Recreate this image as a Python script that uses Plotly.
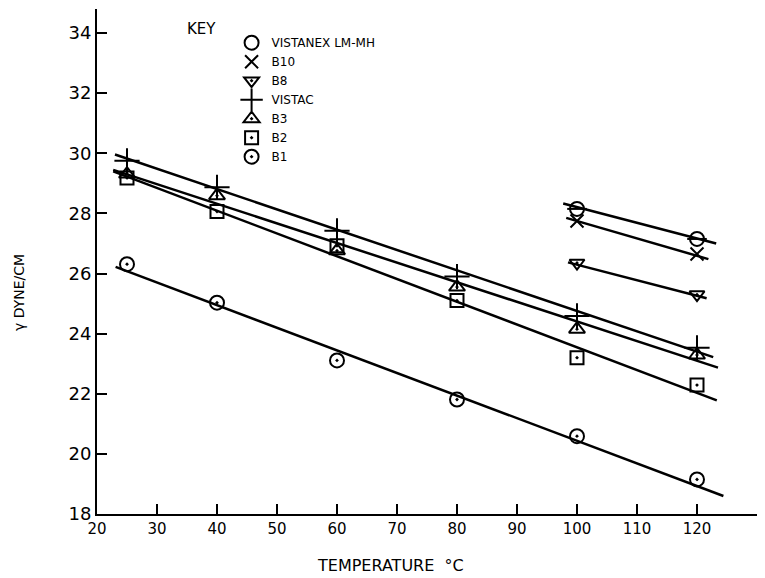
import plotly.graph_objects as go

# ---- data ----
series_names = ["VISTANEX LM-MH", "B10", "B8", "VISTAC", "B3", "B2", "B1"]
temps_high = [100, 120]
temps_all = [25, 40, 60, 80, 100, 120]

vistanex = [28.15, 27.15]
b10 = [27.75, 26.65]
b8 = [26.35, 25.30]
vistac = [29.75, 28.87, 27.42, 25.90, 24.59, 23.53]
b3 = [29.31, 28.59, 26.76, 25.55, 24.15, 23.29]
b2 = [29.18, 28.06, 26.92, 25.10, 23.20, 22.29]
b1 = [26.31, 25.03, 23.11, 21.81, 20.59, 19.15]

# hand-drawn fit lines: start / end temperature and value
fit_t_start = [97.7, 98.2, 98.5, 23.0, 22.7, 22.7, 23.1]
fit_t_end = [123.2, 121.9, 121.6, 122.7, 123.5, 123.3, 124.4]
fit_v_start = [28.33, 27.85, 26.37, 29.96, 29.45, 29.40, 26.22]
fit_v_end = [27.00, 26.48, 25.18, 23.22, 22.87, 21.78, 18.60]

x_ticks = [20, 30, 40, 50, 60, 70, 80, 90, 100, 110, 120]
y_ticks = [18, 20, 22, 24, 26, 28, 30, 32, 34]

# ---- styling ----
FONT = "DejaVu Sans"
symbols = ["circle-open", "x-thin-open", "triangle-down-open-dot", "cross-thin-open",
           "triangle-up-open-dot", "square-open-dot", "circle-open-dot"]
sizes = [14, 13, 13, 18, 14, 13, 14]
xs = [temps_high, temps_high, temps_high, temps_all, temps_all, temps_all, temps_all]
ys = [vistanex, b10, b8, vistac, b3, b2, b1]

fig = go.Figure()

# fit lines
for i in range(len(series_names)):
    fig.add_trace(go.Scatter(
        x=[fit_t_start[i], fit_t_end[i]], y=[fit_v_start[i], fit_v_end[i]],
        mode="lines", line=dict(color="black", width=2.5),
        showlegend=False, hoverinfo="skip"))

# markers
for i, name in enumerate(series_names):
    fig.add_trace(go.Scatter(
        x=xs[i], y=ys[i], mode="markers", name=name,
        marker=dict(symbol=symbols[i], size=sizes[i], color="black",
                    line=dict(color="black", width=2)),
        cliponaxis=False))

# horizontal bar inside the Vistanex circles
fig.add_trace(go.Scatter(
    x=temps_high, y=vistanex, mode="markers", showlegend=False,
    marker=dict(symbol="line-ew-open", size=14, color="black",
                line=dict(color="black", width=2)),
    hoverinfo="skip"))

fig.update_layout(
    width=757, height=570,
    margin=dict(l=89, r=5, t=1, b=64),
    paper_bgcolor="white", plot_bgcolor="white",
    font=dict(family=FONT, color="black", size=14),
    showlegend=True,
    legend=dict(x=0.203, y=0.962, xanchor="left", yanchor="top",
                bgcolor="rgba(0,0,0,0)", font=dict(size=12, family=FONT),
                itemwidth=30, tracegroupgap=0),
    annotations=[
        dict(text="KEY", xref="paper", yref="paper", x=0.1326, y=0.960,
             xanchor="left", yanchor="middle", showarrow=False,
             font=dict(size=15, family=FONT)),
        dict(text="TEMPERATURE  °C", xref="paper", yref="paper",
             x=(390 - 97) / 663, y=-(565 - 514) / 505,
             xanchor="center", yanchor="middle", showarrow=False,
             font=dict(size=16, family=FONT)),
        dict(text="γ DYNE/CM", xref="paper", yref="paper",
             x=-(97 - 19) / 663, y=(514 - 293) / 505, textangle=-90,
             xanchor="center", yanchor="middle", showarrow=False,
             font=dict(size=14, family=FONT)),
    ],
)

fig.update_xaxes(
    range=[20, 130.5], tickvals=x_ticks, ticktext=[str(v) for v in x_ticks],
    ticks="inside", ticklen=10, tickwidth=2, tickcolor="black",
    showline=True, linecolor="black", linewidth=2, mirror=False,
    showgrid=False, zeroline=False,
    tickfont=dict(size=15, family=FONT))

fig.update_yaxes(
    range=[18, 34.8], tickvals=y_ticks, ticktext=[str(v) for v in y_ticks],
    ticks="inside", ticklen=10, tickwidth=2, tickcolor="black",
    showline=True, linecolor="black", linewidth=2, mirror=False,
    showgrid=False, zeroline=False,
    tickfont=dict(size=18, family=FONT))

fig.write_html("out.html")
